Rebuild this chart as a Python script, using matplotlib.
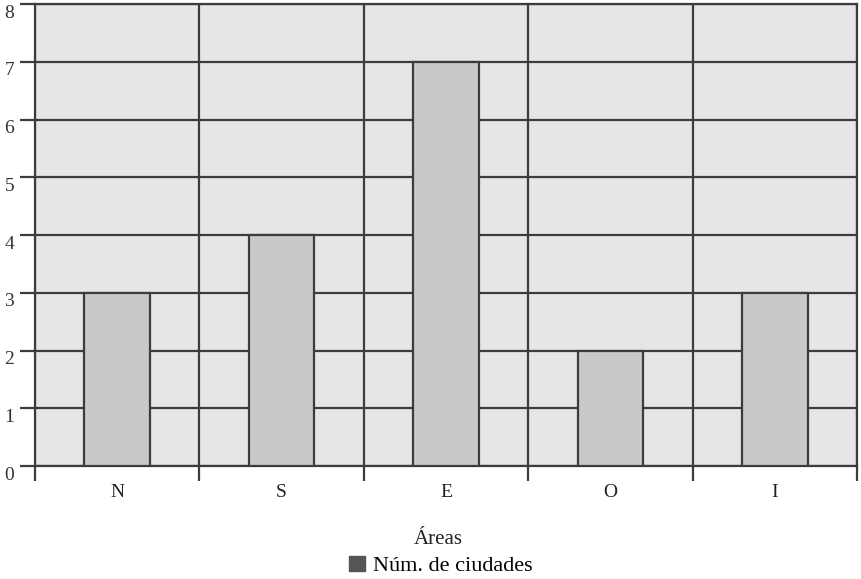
import matplotlib
matplotlib.use("Agg")
import matplotlib.pyplot as plt
import matplotlib.transforms as mtransforms
from matplotlib.patches import Patch
import numpy as np

categories = ["N", "S", "E", "O", "I"]
values = [3, 4, 7, 2, 3]
y_ticks = [0, 1, 2, 3, 4, 5, 6, 7, 8]
x_label = "Áreas"
legend_label = "Núm. de ciudades"

plt.rcParams['font.family'] = ['Liberation Serif', 'DejaVu Serif']

W, H = 861, 579
fig = plt.figure(figsize=(W / 100, H / 100), dpi=100)
ax = fig.add_axes([35 / W, 1 - 466 / H, (857 - 35) / W, (466 - 4) / H])

edge = "#3c3c3c"
ax.set_facecolor("#e6e6e6")
x = np.arange(len(categories))
ax.bar(x, values, width=0.4, color="#c9c9c9", edgecolor=edge, linewidth=1.6, zorder=3)

ax.set_xlim(-0.5, len(categories) - 0.5)
ax.set_ylim(0, 8)
ax.set_yticks(y_ticks)
ax.set_xticks(x)
ax.set_xticklabels(categories)
ax.set_xticks(np.arange(len(categories) + 1) - 0.5, minor=True)

ax.grid(True, axis="y", which="major", color=edge, linewidth=1.6, zorder=1)
ax.grid(True, axis="x", which="minor", color=edge, linewidth=1.6, zorder=1)
ax.set_axisbelow(True)

ax.tick_params(axis="x", which="major", length=0, pad=13, labelsize=14, colors="#222222")
ax.tick_params(axis="x", which="minor", length=11, width=1.6, color=edge)
ax.tick_params(axis="y", which="major", length=11, width=1.6, color=edge, labelsize=14,
               labelcolor="#333333", pad=4)

offset = mtransforms.ScaledTranslation(0, -7 / 100, fig.dpi_scale_trans)
for lab in ax.get_yticklabels():
    lab.set_transform(lab.get_transform() + offset)

for s in ax.spines.values():
    s.set_color(edge)
    s.set_linewidth(1.6)

fig.text(438 / W, 1 - 540 / H, x_label, ha="center", va="center", fontsize=15, color="#222222")
fig.legend(handles=[Patch(facecolor="#555555", edgecolor="#555555")], labels=[legend_label],
           loc="center", bbox_to_anchor=(441 / W, 1 - 566 / H), frameon=False, fontsize=16,
           handlelength=0.7, handleheight=0.7, handletextpad=0.4)

fig.savefig("out.png", dpi=100)
